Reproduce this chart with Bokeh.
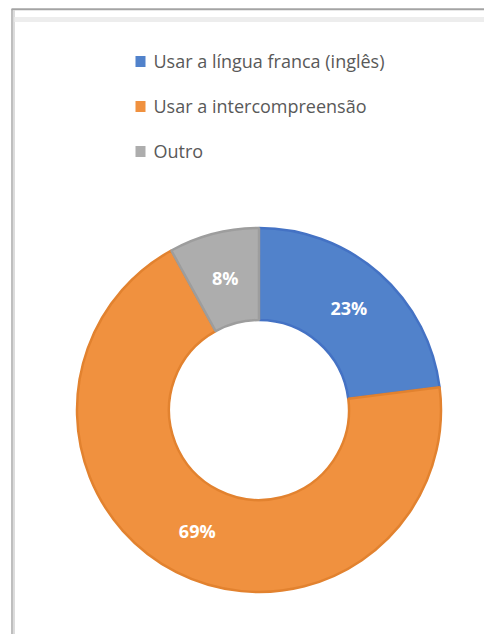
import math
from bokeh.plotting import figure
from bokeh.models import Range1d, ColumnDataSource
from bokeh.core.properties import value
from bokeh.embed import file_html
from bokeh.resources import INLINE

categories = ["Usar a língua franca (inglês)", "Usar a intercompreensão", "Outro"]
values = [23, 69, 8]
fill_colors = ["#5182CB", "#F0913F", "#ADADAD"]
edge_colors = ["#4472C4", "#E2822F", "#9D9D9D"]

W, H = 484, 634
p = figure(width=W, height=H, output_backend="svg", toolbar_location=None,
           x_range=Range1d(0, W), y_range=Range1d(0, H), min_border=0)
p.axis.visible = False
p.grid.visible = False
p.outline_line_color = None
p.background_fill_color = "white"
p.border_fill_color = "white"

def sy(y):  # screen y -> data y
    return H - y

# frame lines (screenshot border)
p.line([11.5, 11.5], [sy(H), sy(8.5)], line_color="#A8A8A8", line_width=1.5)
p.line([13.5, 13.5], [sy(H), sy(10)], line_color="#C4C4C4", line_width=1.2)
p.line([11, W], [sy(8.8), sy(8.8)], line_color="#A4A4A4", line_width=2)
p.line([14, W], [sy(19), sy(19)], line_color="#EDEDED", line_width=5)

# donut
cx, cy = 258.5, sy(409.5)
r_out, r_in = 182, 90
total = sum(values)
starts, ends, lx, ly, labels = [], [], [], [], []
cum = 0.0
for v in values:
    a0 = math.pi / 2 - cum / total * 2 * math.pi
    cum += v
    a1 = math.pi / 2 - cum / total * 2 * math.pi
    starts.append(a0)
    ends.append(a1)
    mid = (a0 + a1) / 2
    rm = (r_out + r_in) / 2
    lx.append(cx + rm * math.cos(mid))
    ly.append(cy + rm * math.sin(mid))
    labels.append(f"{round(v / total * 100)}%")

src = ColumnDataSource(dict(start=starts, end=ends, fill=fill_colors, edge=edge_colors,
                            lx=lx, ly=ly, label=labels))
p.annular_wedge(x=cx, y=cy, inner_radius=r_in, outer_radius=r_out,
                start_angle="start", end_angle="end", direction="clock",
                fill_color="fill", line_color="edge", line_width=2.5, source=src)
p.text(x="lx", y="ly", text="label", source=src, text_color="white",
       text_font=value("Open Sans"), text_font_style="bold", text_font_size="18px",
       text_align="center", text_baseline="middle")

# legend
leg_y = [sy(61), sy(106), sy(151)]
leg_src = ColumnDataSource(dict(x=[140] * 3, y=leg_y, tx=[153] * 3, ty=[y + 0.5 for y in leg_y],
                                label=categories, fill=fill_colors))
p.rect(x="x", y="y", width=10, height=11, fill_color="fill", line_color=None, source=leg_src)
p.text(x="tx", y="ty", text="label", source=leg_src, text_color="#595959",
       text_font=value("Open Sans"), text_font_size="18px",
       text_align="left", text_baseline="middle")

open("out.html", "w").write(file_html(p, INLINE))
